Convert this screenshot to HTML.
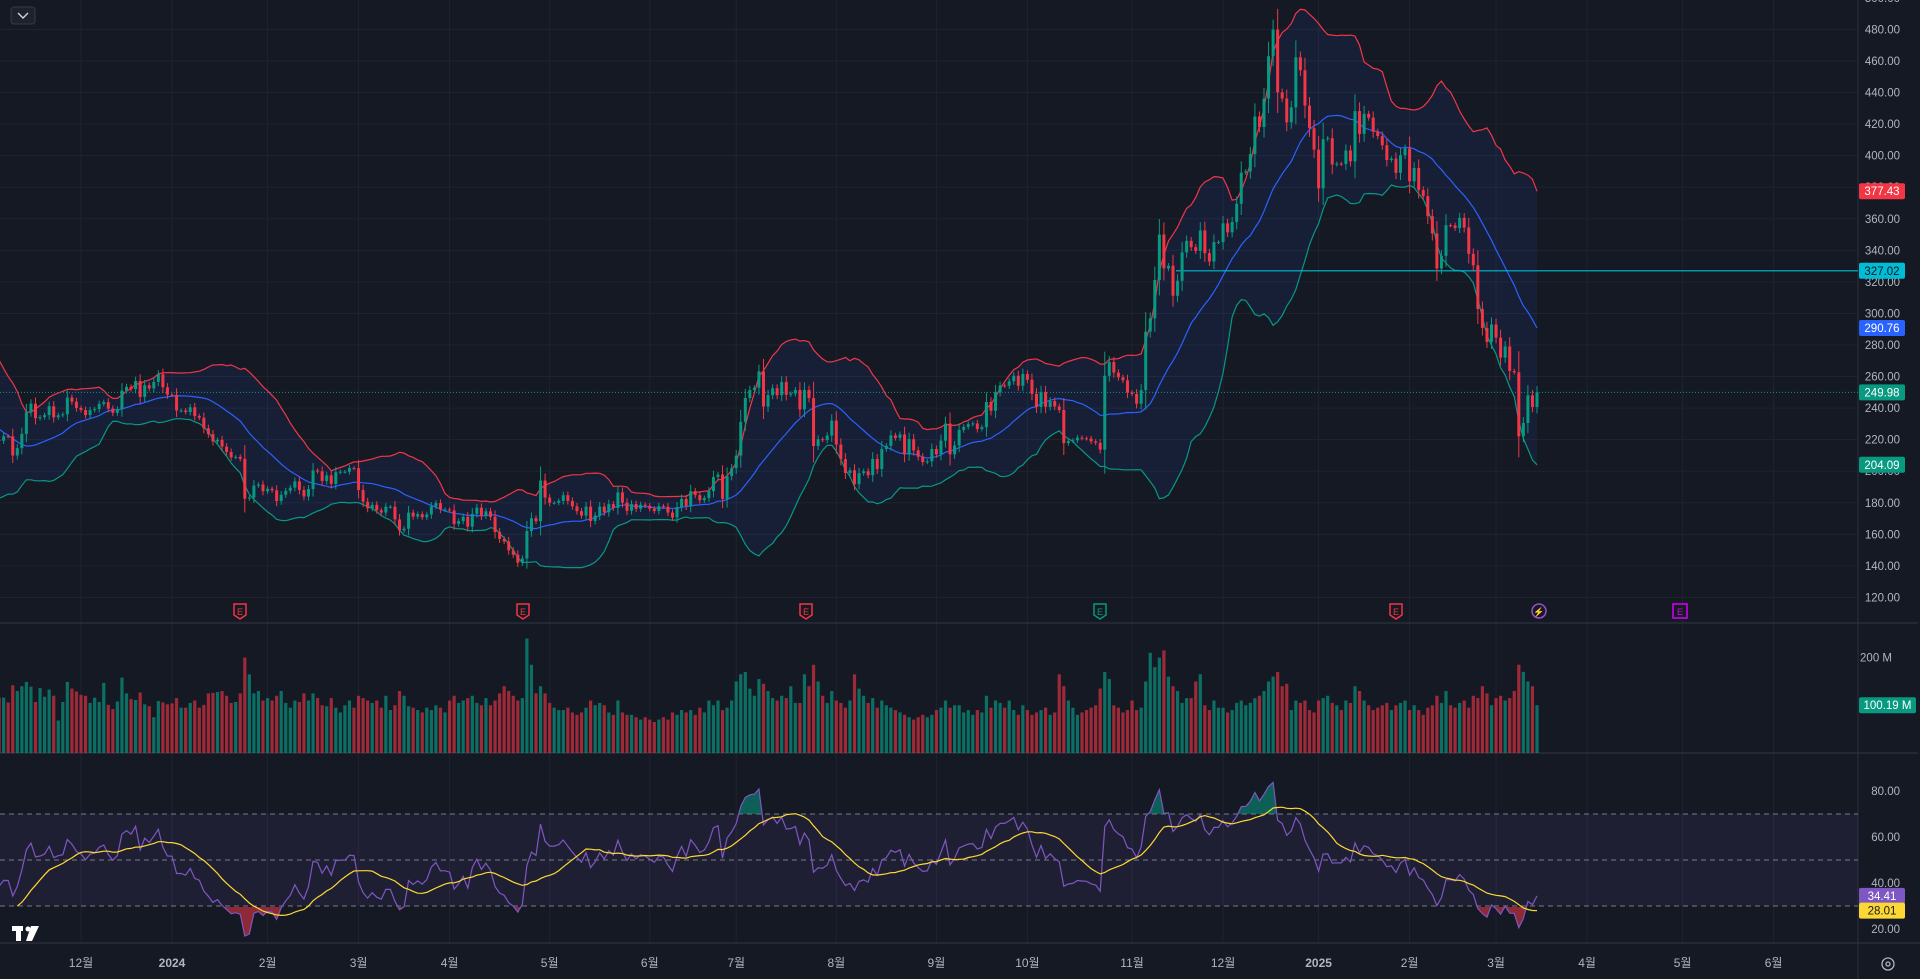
<!DOCTYPE html>
<html><head><meta charset="utf-8">
<style>
html,body{margin:0;padding:0;background:#151924;overflow:hidden}
svg{display:block;font-family:"Liberation Sans","Noto Sans CJK KR",sans-serif}
</style></head>
<body>
<svg id="chart" width="1920" height="979" viewBox="0 0 1920 979" xmlns="http://www.w3.org/2000/svg">
<rect x="0" y="0" width="1920" height="979" fill="#151924"/>
<g id="grid"></g>
<g id="pricePane" clip-path="url(#cp)"></g>
<g id="volPane" clip-path="url(#cv)"></g>
<g id="rsiPane" clip-path="url(#cr)"></g>
<g id="axes"></g>
<g id="tags"></g>
<defs>
<clipPath id="cp"><rect x="0" y="0" width="1858" height="623"/></clipPath>
<clipPath id="cv"><rect x="0" y="624" width="1858" height="129"/></clipPath>
<clipPath id="cr"><rect x="0" y="754" width="1858" height="189"/></clipPath>
<clipPath id="crAbove"><rect x="0" y="754" width="1858" height="60"/></clipPath>
<clipPath id="crBelow"><rect x="0" y="907" width="1858" height="36"/></clipPath>
</defs>
<g>
<rect x="11" y="7" width="24" height="17" rx="3" fill="#1e222d" stroke="#363a45"/>
<path d="M18 13 L23 18 L28 13" stroke="#d1d4dc" stroke-width="1.4" fill="none"/>
</g>
<g fill="#ffffff">
<rect x="12" y="926" width="11" height="5"/><rect x="16" y="926" width="5" height="15"/>
<circle cx="28" cy="929" r="2.5"/><path d="M31 926 L39 926 L32 941 L26 941 Z"/>
</g>
<g><circle cx="1888" cy="964" r="6" fill="none" stroke="#b2b5be" stroke-width="1.3"/><circle cx="1888" cy="964" r="2" fill="none" stroke="#b2b5be" stroke-width="1.3"/></g>
</svg>
<script>
const warmCloses = [261.2,260.05,260.5,259.7,263.6,258.9,251.1,253.9,259.7,254.85,242.7,220.1,211.99,212.1,216.5,212.4,205.8,207.3,197.4,200.8,205.7];
const closes = [
218.5,219.9,219.3,222.2,222.1,209.98,214.65,223.7,237.4,242.8,233.6,234.3,235.6,241.2,234.2,235.5,236.1,246.7,244.1,240.1,
238.8,235.6,238.7,239.4,242.6,243.8,239.7,237.0,239.3,251.1,253.5,252.1,257.2,247.1,254.5,252.5,256.6,261.4,253.2,248.5,
248.4,238.5,238.5,237.5,240.5,234.96,233.9,227.2,223.5,218.9,219.9,215.6,212.2,208.8,209.1,207.8,182.6,183.3,190.9,191.6,187.3,
188.9,187.9,181.1,185.1,187.6,189.6,193.6,188.1,184.0,188.7,200.5,199.95,193.8,197.4,191.97,199.4,199.7,199.7,202.0,201.9,
188.1,180.7,176.5,178.7,175.3,173.8,177.5,177.5,169.5,162.5,163.6,173.8,171.3,172.8,170.8,172.6,177.7,179.8,175.8,175.8,
175.2,166.6,168.4,171.1,164.9,172.98,176.9,171.8,174.6,171.1,161.5,157.1,155.5,149.9,147.1,142.05,144.7,162.1,170.2,168.3,194.1,183.3,
179.99,179.99,181.2,184.8,181.2,177.8,174.7,171.9,177.6,168.5,171.9,177.6,173.99,179.2,176.75,186.6,180.1,174.95,179.2,176.2,178.8,178.1,
176.3,174.8,177.9,177.5,173.8,170.7,177.3,182.5,178.0,187.4,184.9,181.6,183.0,187.4,196.4,197.9,182.5,196.9,201.9,
209.9,231.3,246.4,251.5,252.9,263.3,241.0,248.2,252.6,248.2,256.6,248.5,249.2,251.5,239.2,251.5,246.4,215.99,220.3,219.8,222.6,232.1,
216.9,207.7,198.9,200.6,191.8,198.8,200.0,197.5,207.8,201.4,214.1,216.1,222.7,221.1,223.3,210.7,220.3,213.2,209.2,205.8,206.3,214.1,
210.7,219.4,230.2,210.7,216.3,226.2,228.1,229.8,230.3,226.8,227.9,243.9,238.3,250.0,254.3,254.2,257.0,260.5,254.2,261.6,
258.0,249.0,240.7,250.1,240.8,244.5,241.05,238.8,217.8,219.2,219.6,221.3,220.9,220.7,218.9,217.97,213.7,260.5,269.2,262.5,259.5,257.6,249.9,
248.98,242.8,251.4,288.5,296.9,321.2,350.0,328.5,330.2,311.2,320.7,338.7,346.0,342.0,339.6,352.6,338.2,332.9,345.2,345.2,
357.1,351.4,357.9,369.5,389.2,390.0,400.99,424.8,418.1,436.2,463.0,479.9,440.1,436.2,421.1,430.6,462.3,454.1,431.7,417.4,403.8,
379.3,410.4,411.05,394.4,394.9,394.7,403.3,396.4,428.2,413.8,426.5,424.1,415.1,412.4,406.6,397.2,398.1,389.1,400.3,404.6,
383.7,392.2,378.2,374.3,361.6,350.7,328.5,336.5,355.9,355.8,354.1,360.6,354.4,337.8,330.5,302.8,290.8,281.95,292.98,
284.7,272.0,279.1,263.5,262.7,222.15,230.6,248.1,240.7,249.98];
const volumes = [
123,130,116,116,106,142,130,140,149,139,107,136,118,133,120,68,107,149,135,129,
122,120,105,116,107,147,101,92,108,158,125,113,111,127,102,98,75,109,106,102,
104,115,95,95,105,110,95,101,125,126,128,130,120,105,107,125,200,165,125,130,110,
115,110,120,130,105,95,110,107,125,110,125,115,100,98,115,95,85,100,110,95,
120,115,110,105,110,95,120,90,100,130,120,98,95,90,85,95,90,100,95,85,
110,120,105,110,115,120,105,100,115,100,110,125,140,130,120,110,115,240,185,125,140,125,
105,95,90,90,95,85,80,85,95,110,100,105,100,85,80,110,85,80,80,75,70,75,
70,65,70,75,70,85,80,90,85,90,80,95,85,110,100,110,90,95,110,
150,165,170,135,120,155,145,130,115,110,120,115,140,105,105,165,140,185,150,120,105,130,
110,105,95,110,165,135,120,105,115,95,110,100,95,90,85,80,75,70,75,80,75,80,
90,95,110,95,100,100,85,90,80,90,85,120,95,110,105,95,110,90,80,100,
90,80,85,90,95,80,85,165,140,110,95,80,85,90,95,100,135,170,155,100,95,85,90,
110,90,95,150,210,180,200,215,160,140,130,105,115,115,150,165,100,90,110,95,
95,85,90,105,110,100,105,115,120,130,150,160,170,140,145,90,110,105,110,90,85,
110,115,120,105,100,90,110,105,140,130,110,100,90,95,100,105,90,100,105,110,
90,100,90,80,95,100,120,105,130,100,95,105,110,95,120,115,140,125,100,
115,120,110,115,130,185,170,150,140,100.19];
const monthLabels = ["12월","2024","2월","3월","4월","5월","6월","7월","8월","9월","10월","11월","12월","2025","2월","3월","4월","5월","6월"];
const monthStartIdx = [20,40,61,81,101,123,145,164,186,208,228,251,271,292,312,331,351,372,392];
const priceTicks = [120,140,160,180,200,220,240,260,280,300,320,340,360,380,400,420,440,460,480,500];
const rsiTicks = [20,40,60,80];
const hLineLevel = 327.02;

const NS="http://www.w3.org/2000/svg";
const BAR=4.55, X0=81, REF=20;
const xOf=i=>X0+(i-REF)*BAR;
const py=p=>29.4+(480-p)*1.578;
const vy=v=>753-v*0.477;
const ry=r=>791+(80-r)*2.3;
function mk(tag,attrs,parent){const e=document.createElementNS(NS,tag);for(const k in attrs)e.setAttribute(k,attrs[k]);parent.appendChild(e);return e;}
const G=id=>document.getElementById(id);

const all=warmCloses.concat(closes); const W=warmCloses.length;
const bbMid=[],bbUp=[],bbLo=[];
for(let k=0;k<all.length;k++){ if(k<19){bbMid.push(null);bbUp.push(null);bbLo.push(null);continue;}
 let s=0;for(let j=k-19;j<=k;j++)s+=all[j]; const m=s/20; let v=0;for(let j=k-19;j<=k;j++)v+=(all[j]-m)**2; const sd=Math.sqrt(v/20);
 bbMid.push(m);bbUp.push(m+2*sd);bbLo.push(m-2*sd);}
const rsi=new Array(all.length).fill(null); let ag=0,al=0;
for(let k=1;k<all.length;k++){const d=all[k]-all[k-1],g=Math.max(d,0),l=Math.max(-d,0);
 if(k<=14){ag+=g/14;al+=l/14; if(k===14)rsi[k]=100-100/(1+ag/(al||1e-9));}
 else{ag=(ag*13+g)/14;al=(al*13+l)/14;rsi[k]=100-100/(1+ag/(al||1e-9));}}
const rsiMa=rsi.map((v,k)=>{if(k<27)return null;let s=0;for(let j=k-13;j<=k;j++)s+=rsi[j];return s/14;});
const gx=k=>xOf(k-W);

const grid=G('grid');
priceTicks.forEach(t=>{const l=mk('line',{x1:0,x2:1858,y1:py(t),y2:py(t),stroke:'#1f2330','stroke-width':1},grid);

});
monthStartIdx.forEach(i=>{const l=mk('line',{x1:xOf(i),x2:xOf(i),y1:0,y2:943,stroke:'#1f2330','stroke-width':1},grid);

});
[[0,1918,623],[0,1918,753],[0,1920,943]].forEach(a=>{const l=mk('line',{x1:a[0],x2:a[1],y1:a[2],y2:a[2],stroke:'#2a2e39','stroke-width':1.5},grid);

});
const axl=mk('line',{x1:1858,x2:1858,y1:0,y2:979,stroke:'#2a2e39'},grid);



const pp=G('pricePane');
const pts=a=>{const r=[];for(let k=0;k<all.length;k++)if(a[k]!=null)r.push(gx(k).toFixed(1)+','+py(a[k]).toFixed(1));return r;};
const up=pts(bbUp),lo=pts(bbLo);
const fill=mk('polygon',{points:up.concat(lo.reverse()).join(' '),fill:'rgba(41,98,255,0.09)'},pp);


[[bbUp,'#f23645','bollinger-upper'],[bbMid,'#2962ff','bollinger-basis'],[bbLo,'#089981','bollinger-lower']].forEach(a=>{
 const pl=mk('polyline',{points:pts(a[0]).join(' '),fill:'none',stroke:a[1],'stroke-width':1.2},pp);
 
 });
const hl=mk('line',{x1:1176,x2:1858,y1:py(hLineLevel),y2:py(hLineLevel),stroke:'#00bcd4','stroke-width':1.2},pp);


const last=closes[closes.length-1];
const ll=mk('line',{x1:0,x2:1858,y1:py(last),y2:py(last),stroke:'#089981','stroke-width':1,'stroke-dasharray':'1 2'},pp);


for(let k=1;k<all.length;k++){
 const o=all[k-1],c=all[k],x=gx(k); if(x<-5)continue;
 const col=c>=o?'#089981':'#f23645'; const hi=Math.max(o,c)+Math.abs(c-o)*0.3+1.2, lw=Math.min(o,c)-Math.abs(c-o)*0.3-1.2;
 const w=mk('line',{x1:x,x2:x,y1:py(hi),y2:py(lw),stroke:col,'stroke-width':1},pp);
 
 
 const b=mk('rect',{x:x-1.5,y:py(Math.max(o,c)),width:3,height:Math.max(1,Math.abs(py(o)-py(c))),fill:col},pp);
 
 }

const ev=[[240,'E','#f23645','earnings-marker'],[523,'E','#f23645','earnings-marker'],[806,'E','#f23645','earnings-marker'],[1100,'E','#089981','earnings-marker'],[1396,'E','#f23645','earnings-marker'],[1539,'⚡','#9c4dcc','split-marker'],[1680,'E','#d500f9','earnings-marker']];
ev.forEach(e=>{const g=mk('g',{},pp);
 
 
 if(e[1]==='⚡'){mk('circle',{cx:e[0],cy:611,r:7,fill:'none',stroke:e[2],'stroke-width':1.5},g);}
 else if(e[0]===1680){mk('rect',{x:e[0]-7,y:604,width:14,height:14,fill:'none',stroke:e[2],'stroke-width':1.5},g);}
 else{mk('path',{d:`M${e[0]-6} 604 H${e[0]+6} V615 L${e[0]} 619 L${e[0]-6} 615 Z`,fill:'none',stroke:e[2],'stroke-width':1.5},g);}
 const t=mk('text',{x:e[0],y:615,'text-anchor':'middle','font-size':9,fill:e[2]},g);t.textContent=e[1];});

const vp=G('volPane');
for(let i=0;i<closes.length;i++){const k=i+W,x=gx(k);const col=all[k]>=all[k-1]?'rgba(8,153,129,0.68)':'rgba(242,54,69,0.62)';
 const r=mk('rect',{x:x-1.6,y:vy(volumes[i]),width:3.2,height:753-vy(volumes[i]),fill:col},vp);
 
 }

const rp=G('rsiPane');
const band=mk('rect',{x:0,y:ry(70),width:1858,height:ry(30)-ry(70),fill:'rgba(126,87,194,0.1)'},rp);


[70,50,30].forEach(l=>{const d=mk('line',{x1:0,x2:1858,y1:ry(l),y2:ry(l),stroke:'#787b86','stroke-width':1,'stroke-dasharray':'5 4'},rp);
 
 });
const rPts=[];for(let k=0;k<all.length;k++)if(rsi[k]!=null)rPts.push([gx(k),ry(rsi[k])]);
const rStr=rPts.map(p=>p[0].toFixed(1)+','+p[1].toFixed(1)).join(' ');
const f1=mk('polygon',{points:rStr+` ${rPts[rPts.length-1][0]},${ry(70)} ${rPts[0][0]},${ry(70)}`,fill:'rgba(8,153,129,0.55)','clip-path':'url(#crAbove)'},rp);


const f2=mk('polygon',{points:rStr+` ${rPts[rPts.length-1][0]},${ry(30)} ${rPts[0][0]},${ry(30)}`,fill:'rgba(242,54,69,0.55)','clip-path':'url(#crBelow)'},rp);


const rl=mk('polyline',{points:rStr,fill:'none',stroke:'#7e57c2','stroke-width':1.2},rp);


const mPts=[];for(let k=0;k<all.length;k++)if(rsiMa[k]!=null)mPts.push(gx(k).toFixed(1)+','+ry(rsiMa[k]).toFixed(1));
const ml=mk('polyline',{points:mPts.join(' '),fill:'none',stroke:'#fdd835','stroke-width':1.2},rp);



const ax=G('axes');
priceTicks.forEach(t=>{const tx=mk('text',{x:1900,y:py(t)+4,'text-anchor':'end','font-size':11.5,fill:'#b2b5be'},ax);tx.textContent=t.toFixed(2);
 
 });
const v2=mk('text',{x:1892,y:vy(200)+4,'text-anchor':'end','font-size':11.5,fill:'#b2b5be'},ax);v2.textContent='200 M';


rsiTicks.forEach(t=>{const tx=mk('text',{x:1900,y:ry(t)+4,'text-anchor':'end','font-size':11.5,fill:'#b2b5be'},ax);tx.textContent=t.toFixed(2);
 
 });
monthLabels.forEach((m,j)=>{const tx=mk('text',{x:xOf(monthStartIdx[j]),y:967,'text-anchor':'middle','font-size':12,fill:'#b2b5be','font-weight':(m.length===4?'bold':'normal')},ax);tx.textContent=m;
 
 });

const tg=G('tags');
const lastMid=bbMid[bbMid.length-1],lastUp=bbUp[bbUp.length-1],lastLo=bbLo[bbLo.length-1];
const tagList=[[py(lastUp),lastUp.toFixed(2),'#f23645','#fff','upper-band-tag'],[py(hLineLevel),hLineLevel.toFixed(2),'#00bcd4','#131722','level-tag'],[py(lastMid),lastMid.toFixed(2),'#2962ff','#fff','basis-tag'],[py(last),last.toFixed(2),'#089981','#fff','last-price-tag'],[py(lastLo),lastLo.toFixed(2),'#089981','#fff','lower-band-tag'],
[vy(volumes[volumes.length-1]),volumes[volumes.length-1].toFixed(2)+' M','#089981','#fff','volume-tag'],
[ry(rsi[rsi.length-1]),rsi[rsi.length-1].toFixed(2),'#7e57c2','#fff','rsi-tag'],[ry(rsiMa[rsiMa.length-1]),rsiMa[rsiMa.length-1].toFixed(2),'#fdd835','#131722','rsi-ma-tag']];
tagList.forEach(t=>{const g=mk('g',{},tg);
 
 
 const w=t[1].endsWith('M')?57:46;
 mk('rect',{x:1859,y:t[0]-8,width:w,height:16,rx:2,fill:t[2]},g);
 const tx=mk('text',{x:1859+w/2,y:t[0]+4,'text-anchor':'middle','font-size':11.5,fill:t[3]},g);tx.textContent=t[1];});
</script>
</body></html>
